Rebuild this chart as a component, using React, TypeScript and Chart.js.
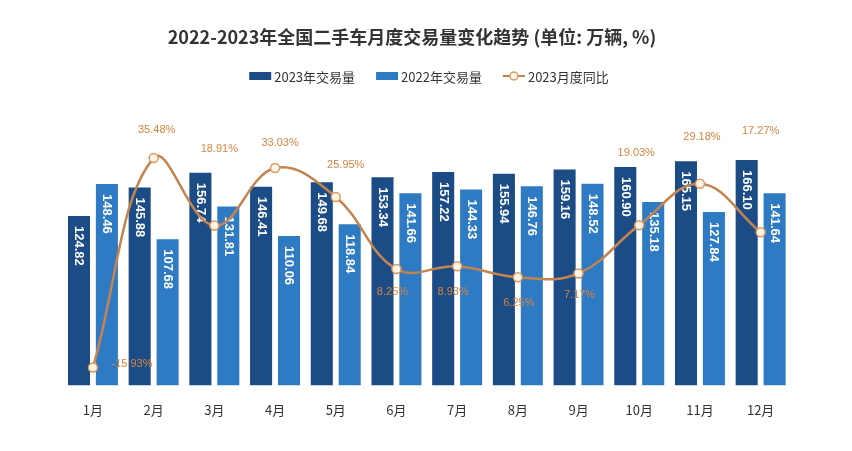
import React, { useEffect, useRef } from 'react';
import { Chart, registerables } from 'chart.js';

Chart.register(...registerables);

const titleText = '2022-2023年全国二手车月度交易量变化趋势 (单位: 万辆, %)';
const months = ['1月', '2月', '3月', '4月', '5月', '6月', '7月', '8月', '9月', '10月', '11月', '12月'];
const seriesNames = ['2023年交易量', '2022年交易量', '2023月度同比'];
const sales2023 = [124.82, 145.88, 156.74, 146.41, 149.68, 153.34, 157.22, 155.94, 159.16, 160.9, 165.15, 166.1];
const sales2022 = [148.46, 107.68, 131.81, 110.06, 118.84, 141.66, 144.33, 146.76, 148.52, 135.18, 127.84, 141.64];
const yoy2023 = [-15.93, 35.48, 18.91, 33.03, 25.95, 8.25, 8.93, 6.25, 7.17, 19.03, 29.18, 17.27];

// label placement offsets (style only), relative to each line point, in px
const pctLabelOffsets: [number, number][] = [
  [39, -4], [3, -28], [5, -77], [5, -25], [10, -32], [-4, 23],
  [-4, 26], [1, 26], [1, 22], [-3, -72], [2, -47], [0, -101],
];

const DARK = '#1c4c86';
const LIGHT = '#2e7bc4';
const LINE = '#c4834f';
const PCT = '#d9843f';

const decorPlugin = {
  id: 'decor',
  afterDatasetDraw(chart: any, args: any) {
    const ds = chart.data.datasets[args.index];
    if (ds.type !== 'bar') return;
    const ctx = chart.ctx;
    ctx.save();
    ctx.fillStyle = '#ffffff';
    ctx.font = 'bold 13px "Liberation Sans", Arial, sans-serif';
    ctx.textAlign = 'left';
    ctx.textBaseline = 'middle';
    args.meta.data.forEach((el: any, i: number) => {
      const v = ds.data[i] as number;
      ctx.save();
      ctx.translate(el.x, el.y + 10);
      ctx.rotate(Math.PI / 2);
      ctx.fillText(v.toFixed(2), 0, 0);
      ctx.restore();
    });
    ctx.restore();
  },
  afterDatasetsDraw(chart: any) {
    const idx = chart.data.datasets.findIndex((d: any) => d.type === 'line');
    const meta = chart.getDatasetMeta(idx);
    const ds = chart.data.datasets[idx];
    const ctx = chart.ctx;
    ctx.save();
    ctx.fillStyle = PCT;
    ctx.font = '11px "Liberation Sans", Arial, sans-serif';
    ctx.textAlign = 'center';
    ctx.textBaseline = 'middle';
    meta.data.forEach((el: any, i: number) => {
      const v = ds.data[i] as number;
      const [dx, dy] = pctLabelOffsets[i];
      ctx.fillText(v.toFixed(2) + '%', el.x + dx, el.y + dy);
    });
    ctx.restore();
  },
  afterDraw(chart: any) {
    const ctx = chart.ctx;
    ctx.save();
    // title
    ctx.fillStyle = '#333333';
    ctx.font = 'bold 18px "Noto Sans CJK SC", sans-serif';
    ctx.textAlign = 'center';
    ctx.textBaseline = 'middle';
    ctx.fillText(titleText, 412, 37);
    // legend
    ctx.font = '13px "Noto Sans CJK SC", sans-serif';
    ctx.textAlign = 'left';
    const y = 76;
    const markW = 22;
    const gapText = 3;
    const gapItem = 21;
    const widths = seriesNames.map((n) => markW + gapText + ctx.measureText(n).width);
    const total = widths.reduce((a, b) => a + b, 0) + gapItem * (widths.length - 1);
    let x = 429 - total / 2;
    chart.data.datasets.forEach((ds: any, i: number) => {
      if (ds.type === 'bar') {
        ctx.fillStyle = ds.backgroundColor;
        ctx.fillRect(x, y - 4, markW, 8);
      } else {
        ctx.strokeStyle = ds.borderColor;
        ctx.lineWidth = 2;
        ctx.beginPath();
        ctx.moveTo(x, y);
        ctx.lineTo(x + markW, y);
        ctx.stroke();
        ctx.beginPath();
        ctx.arc(x + markW / 2, y, 4, 0, Math.PI * 2);
        ctx.fillStyle = ds.pointBackgroundColor;
        ctx.fill();
        ctx.strokeStyle = ds.pointBorderColor;
        ctx.lineWidth = 1.5;
        ctx.stroke();
      }
      ctx.fillStyle = '#333333';
      ctx.fillText(seriesNames[i], x + markW + gapText, y + 1);
      x += widths[i] + gapItem;
    });
    ctx.restore();
  },
};

export default function App() {
  const ref = useRef<HTMLCanvasElement | null>(null);

  useEffect(() => {
    if (!ref.current) return;
    const chart = new Chart(ref.current, {
      type: 'bar',
      data: {
        labels: months,
        datasets: [
          {
            type: 'bar',
            label: seriesNames[0],
            data: sales2023,
            backgroundColor: DARK,
            yAxisID: 'y',
            order: 1,
            categoryPercentage: 0.92,
            barPercentage: 0.79,
          } as any,
          {
            type: 'bar',
            label: seriesNames[1],
            data: sales2022,
            backgroundColor: LIGHT,
            yAxisID: 'y',
            order: 1,
            categoryPercentage: 0.92,
            barPercentage: 0.79,
          } as any,
          {
            type: 'line',
            label: seriesNames[2],
            data: yoy2023,
            borderColor: LINE,
            borderWidth: 2.5,
            tension: 0.4,
            pointRadius: 4.5,
            pointBackgroundColor: '#fff4e6',
            pointBorderColor: '#d8995f',
            pointBorderWidth: 1.5,
            yAxisID: 'y2',
            order: 0,
          } as any,
        ],
      },
      options: {
        animation: false,
        responsive: false,
        devicePixelRatio: 1,
        layout: { padding: { left: 62.6, right: 61, top: 114, bottom: 16 } },
        plugins: {
          legend: { display: false },
          title: { display: false },
          tooltip: { enabled: false },
        },
        scales: {
          x: {
            grid: { display: false, drawTicks: false },
            border: { display: false },
            ticks: {
              color: '#333333',
              padding: 17,
              font: { size: 13, family: '"Noto Sans CJK SC", sans-serif' },
            },
          },
          y: { display: false, min: 0, max: 200 },
          y2: { display: false, min: -20.3, max: 46.3, position: 'right' },
        },
      },
      plugins: [decorPlugin],
    });
    return () => chart.destroy();
  }, []);

  return (
    <div style={{ position: 'fixed', left: 0, top: 0, width: 852, height: 451, background: '#ffffff' }}>
      <canvas ref={ref} width={852} height={451} style={{ display: 'block', width: 852, height: 451 }} />
    </div>
  );
}
